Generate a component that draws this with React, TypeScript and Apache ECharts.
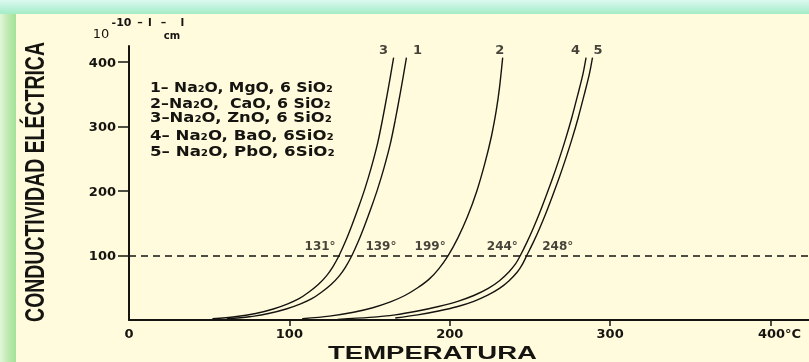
import React, { useEffect, useRef } from 'react';
import * as echarts from 'echarts';

const W = 809;
const H = 362;

// Conductivity (10^-10 ohm^-1 cm^-1) against temperature (°C) for each glass
const curveIds = ['1', '2', '3', '4', '5'];
const compositions = [
  '1– Na₂O, MgO, 6 SiO₂',
  '2–Na₂O,  CaO, 6 SiO₂',
  '3–Na₂O, ZnO, 6 SiO₂',
  '4– Na₂O, BaO, 6SiO₂',
  '5– Na₂O, PbO, 6SiO₂',
];

const curveMgO: [number, number][] = [
  [61, 2], [75, 5], [87, 10], [98, 17], [107, 25], [114, 33], [120, 43], [126, 55], [131, 68],
  [135, 82], [139, 100], [143, 122], [147, 147], [151, 174], [155, 203], [159, 236], [163, 274],
  [166, 310], [169, 350], [171, 378], [173, 407],
];
const curveCaO: [number, number][] = [
  [108, 2], [125, 6], [140, 12], [152, 19], [163, 28], [172, 38], [180, 50], [187, 63], [193, 79],
  [199, 100], [205, 127], [211, 160], [217, 201], [222, 244], [226, 285], [229, 325], [231, 360],
  [233, 407],
];
const curveZnO: [number, number][] = [
  [52, 2], [66, 5], [79, 10], [90, 17], [99, 25], [106, 33], [112, 43], [118, 55], [123, 68],
  [127, 82], [131, 100], [135, 122], [139, 147], [143, 174], [147, 203], [151, 236], [155, 274],
  [158, 310], [161, 350], [163, 378], [165, 407],
];
const curveBaO: [number, number][] = [
  [130, 1], [150, 4], [166, 8], [180, 14], [193, 21], [205, 29], [215, 38], [224, 49], [231, 61],
  [237, 75], [241, 87], [244, 100], [248, 120], [252, 142], [256, 166], [260, 192], [264, 219],
  [268, 248], [272, 279], [276, 313], [280, 351], [283, 381], [285, 407],
];
const curvePbO: [number, number][] = [
  [166, 3], [180, 8], [193, 14], [205, 21], [215, 29], [224, 39], [231, 49], [237, 61], [242, 74],
  [245, 85], [248, 100], [252, 120], [256, 142], [260, 166], [264, 192], [268, 219], [272, 248],
  [276, 279], [280, 313], [284, 351], [287, 381], [289, 407],
];
const curves = [curveMgO, curveCaO, curveZnO, curveBaO, curvePbO];

// Temperature at which each glass reaches the reference conductivity
const referenceLevel = 100;
const crossingTemps = [139, 199, 131, 244, 248];

const xTicks = [0, 100, 200, 300, 400];
const yTicks = [100, 200, 300, 400];

// label placement (pixels) relative to the marks they annotate
const crossingOffsets = [[29, -9.5], [-18, -9.5], [-19, -9.5], [-18, -9.5], [31, -9.5]];
const endOffsets = [[11, -8], [-3, -8], [-10, -8], [-10.5, -8], [5.5, -8]];
const legendTop = [87, 103, 117.5, 135, 151];
const legendWidth = [183, 181, 182, 184, 185];

const INK = '#151410';
const CREAM = '#fffbdc';

function textScale(text: string, font: string, target: number): number {
  const ctx = document.createElement('canvas').getContext('2d');
  if (!ctx) return 1;
  ctx.font = font;
  const w = ctx.measureText(text).width;
  return w > 0 ? target / w : 1;
}

export default function App() {
  const ref = useRef<HTMLDivElement>(null);

  useEffect(() => {
    if (!ref.current) return;
    const chart = echarts.init(ref.current, undefined, { renderer: 'svg', width: W, height: H });

    const yTitle = 'CONDUCTIVIDAD ELÉCTRICA';
    const yTitleFont = 'bold 27px "Liberation Sans"';
    const xTitle = 'TEMPERATURA';
    const xTitleFont = 'bold 18px "Liberation Sans"';
    const legendFont = 'bold 14px "DejaVu Sans"';
    const unitFont = 'bold 11px "DejaVu Sans"';

    const unitPieces: [string, number][] = [['-10', 121.5], ['–', 140], ['l', 150], ['–', 163.5], ['l', 182.5]];

    const graphic: any[] = [
      { type: 'rect', z: -20, silent: true, shape: { x: 0, y: 0, width: W, height: H }, style: { fill: CREAM } },
      {
        type: 'rect', z: -19, silent: true,
        shape: { x: 0, y: 0, width: 16, height: H },
        style: {
          fill: new echarts.graphic.LinearGradient(0, 0, 1, 0, [
            { offset: 0, color: '#e2f6d8' },
            { offset: 0.5, color: '#bdeab0' },
            { offset: 1, color: '#a3e298' },
          ]),
        },
      },
      {
        type: 'rect', z: -18, silent: true,
        shape: { x: 0, y: 0, width: W, height: 14 },
        style: {
          fill: new echarts.graphic.LinearGradient(0, 0, 0, 1, [
            { offset: 0, color: '#dcf9f0' },
            { offset: 0.6, color: '#b9f1d8' },
            { offset: 1, color: '#a4ecc5' },
          ]),
        },
      },
      {
        type: 'text', z: 10, silent: true,
        x: 35, y: 182, rotation: Math.PI / 2,
        scaleX: textScale(yTitle, yTitleFont, 280),
        style: { text: yTitle, font: yTitleFont, fill: INK, align: 'center', verticalAlign: 'middle' },
      },
      {
        type: 'text', z: 10, silent: true,
        x: 432.5, y: 362,
        scaleX: textScale(xTitle, xTitleFont, 209),
        style: { text: xTitle, font: xTitleFont, fill: INK, align: 'center', verticalAlign: 'bottom' },
      },
      {
        type: 'text', z: 10, silent: true, x: 101, y: 33,
        style: { text: '10', font: '13px "DejaVu Sans"', fill: INK, align: 'center', verticalAlign: 'middle' },
      },
      ...unitPieces.map(([t, x]) => ({
        type: 'text', z: 10, silent: true, x, y: 22,
        style: { text: t, font: unitFont, fill: INK, align: 'center', verticalAlign: 'middle' },
      })),
      {
        type: 'text', z: 10, silent: true, x: 172, y: 35,
        style: { text: 'cm', font: 'bold 10px "DejaVu Sans"', fill: INK, align: 'center', verticalAlign: 'middle' },
      },
      ...compositions.map((c, i) => ({
        type: 'text', z: 10, silent: true,
        x: 150, y: legendTop[i],
        scaleX: textScale(c, legendFont, legendWidth[i]),
        style: { text: c, font: legendFont, fill: INK, align: 'left', verticalAlign: 'middle' },
      })),
    ];

    const lineSeries = curves.map((pts, i) => ({
      type: 'line',
      name: curveIds[i],
      data: pts,
      smooth: 0.3,
      showSymbol: false,
      symbol: 'none',
      silent: true,
      z: 3,
      lineStyle: { color: INK, width: 1.4 },
      markLine: i === 0
        ? {
            silent: true,
            symbol: ['none', 'none'],
            label: { show: false },
            lineStyle: { type: [7, 5], color: INK, width: 1.5 },
            data: [{ yAxis: referenceLevel }],
          }
        : undefined,
    }));

    const labelFont = { fontFamily: 'DejaVu Sans', color: INK };

    const option: any = {
      animation: false,
      backgroundColor: 'transparent',
      grid: { left: 129, right: 0, top: 46, bottom: 42, containLabel: false, outerBoundsMode: 'none' },
      xAxis: {
        type: 'value', min: 0, max: 424,
        axisLine: { show: true, lineStyle: { color: INK, width: 2 } },
        axisTick: { show: true, customValues: xTicks.slice(1), length: 6, lineStyle: { color: INK, width: 1.5 } },
        axisLabel: {
          customValues: xTicks, margin: 7, fontSize: 13, fontWeight: 'bold', ...labelFont,
          formatter: (v: number) => (v === 400 ? '{u|400°C}' : String(v)),
          rich: { u: { fontSize: 13, fontWeight: 'bold', fontFamily: 'DejaVu Sans', color: INK, padding: [0, 0, 0, 18] } },
        },
        splitLine: { show: false },
      },
      yAxis: {
        type: 'value', min: 0, max: 425,
        axisLine: { show: true, lineStyle: { color: INK, width: 2 } },
        axisTick: { show: true, customValues: yTicks, length: 11, lineStyle: { color: INK, width: 1.5 } },
        axisLabel: { customValues: yTicks, margin: 13, fontSize: 13, fontWeight: 'bold', ...labelFont },
        splitLine: { show: false },
      },
      graphic,
      series: [
        ...lineSeries,
        {
          type: 'scatter',
          symbolSize: 0,
          silent: true,
          z: 5,
          data: crossingTemps.map((t, i) => ({
            value: [t, referenceLevel],
            label: { offset: crossingOffsets[i] },
          })),
          label: {
            show: true, position: 'inside', fontSize: 12, fontWeight: 'bold', ...labelFont,
            formatter: (p: any) => `${p.value[0]}°`,
          },
        },
        {
          type: 'scatter',
          symbolSize: 0,
          silent: true,
          z: 5,
          data: curves.map((pts, i) => ({
            value: pts[pts.length - 1],
            name: curveIds[i],
            label: { offset: endOffsets[i] },
          })),
          label: { show: true, position: 'inside', fontSize: 13, fontWeight: 'bold', ...labelFont, formatter: '{b}' },
        },
      ],
    };

    chart.setOption(option);
    return () => chart.dispose();
  }, []);

  return (
    <div
      ref={ref}
      style={{ position: 'fixed', left: 0, top: 0, width: W, height: H, overflow: 'hidden' }}
    />
  );
}
